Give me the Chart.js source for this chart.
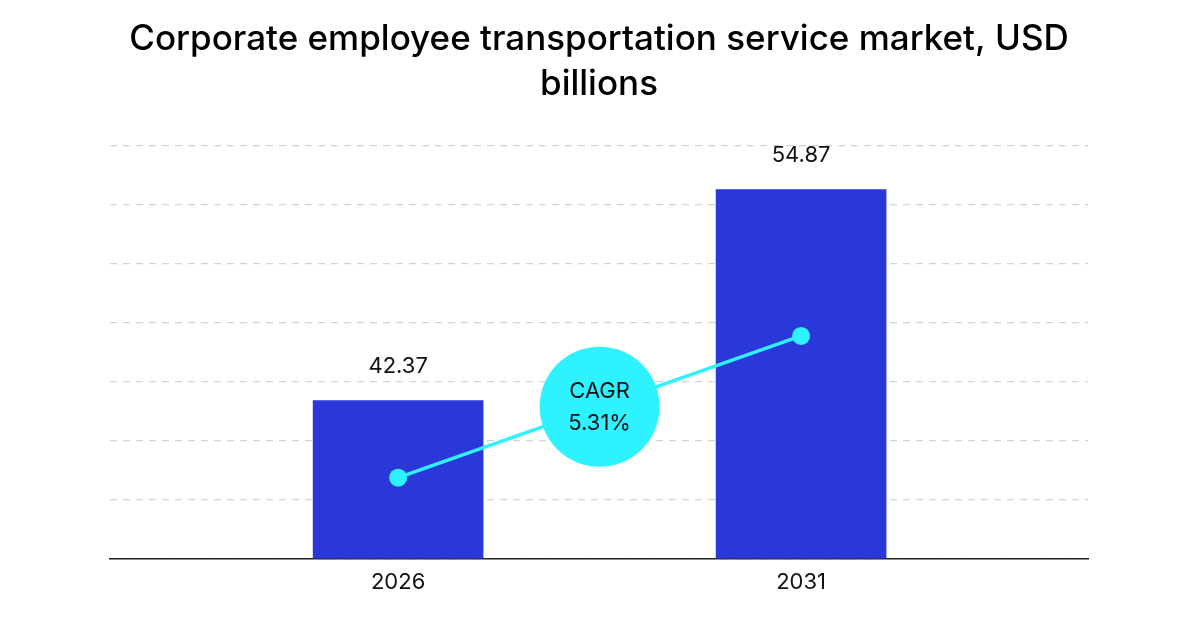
<!DOCTYPE html>
<html>
<head>
<meta charset="utf-8">
<script src="https://cdn.jsdelivr.net/npm/chart.js@4"></script>
<style>
  html, body { margin: 0; padding: 0; background: #fff; }
  #wrap { width: 1200px; height: 630px; }
</style>
</head>
<body>
<div id="wrap"><canvas id="marketChart" width="1200" height="630"></canvas></div>
<script>
/* DATA */
let categories = ["2026", "2031"];
let marketValues = [42.37, 54.87];
let trendValues = [37.8, 46.2];   // decorative CAGR line
let cagrText = ["CAGR", "5.31%"];
let titleLines = ["Corporate employee transportation service market, USD", "billions"];

let barColor = "#2a38d9";
let cyan = "#2ef2ff";
let fontName = "Inter, 'DejaVu Sans', sans-serif";

/* LABELS + CAGR BUBBLE */
let overlay = {
    id: "overlay",
    afterDatasetsDraw(chart) {
        let ctx = chart.ctx;
        ctx.save();
        ctx.fillStyle = "#111";
        ctx.font = "400 22px " + fontName;
        ctx.textAlign = "center";
        ctx.textBaseline = "middle";
        chart.getDatasetMeta(1).data.forEach((bar, i) => {
            ctx.fillText(marketValues[i].toFixed(2), bar.x, bar.y - 34);
        });

        let pts = chart.getDatasetMeta(0).data;
        let cx = (pts[0].x + pts[1].x) / 2;
        let cy = (pts[0].y + pts[1].y) / 2;
        ctx.beginPath();
        ctx.arc(cx, cy, 60, 0, Math.PI * 2);
        ctx.fillStyle = cyan;
        ctx.fill();
        ctx.fillStyle = "#111";
        ctx.fillText(cagrText[0], cx, cy - 15);
        ctx.fillText(cagrText[1], cx, cy + 17);
        ctx.restore();
    }
};

new Chart(document.getElementById("marketChart"), {
    type: "bar",
    data: {
        datasets: [
            {
                type: "line",
                data: trendValues.map((v, i) => ({ x: i, y: v })),
                borderColor: cyan,
                borderWidth: 3.5,
                pointRadius: 9,
                pointBackgroundColor: cyan,
                pointBorderWidth: 0,
                order: 0
            },
            {
                type: "bar",
                data: marketValues.map((v, i) => ({ x: i, y: v })),
                backgroundColor: barColor,
                barThickness: 170,
                order: 1
            }
        ]
    },
    options: {
        responsive: false,
        animation: false,
        layout: { padding: { left: 110, right: 112, top: 0, bottom: 31 } },
        plugins: {
            legend: { display: false },
            tooltip: { enabled: false },
            title: {
                display: true,
                text: titleLines,
                color: "#000",
                font: { family: fontName, size: 35, weight: "500", lineHeight: 1.29 },
                padding: { top: 17, bottom: 38 }
            }
        },
        scales: {
            x: {
                type: "linear",
                offset: false,
                min: -0.715,
                max: 1.712,
                grid: { display: false },
                border: { display: true, color: "#222", width: 1.5 },
                afterBuildTicks(scale) {
                    scale.ticks = categories.map((c, i) => ({ value: i }));
                },
                ticks: {
                    padding: 3,
                    color: "#111",
                    font: { family: fontName, size: 22 },
                    callback: v => categories[v]
                }
            },
            y: {
                min: 33,
                max: 57.5,
                ticks: { display: false, stepSize: 3.5 },
                grid: { color: "#d4d4d4", lineWidth: 1.2, drawTicks: false },
                border: { display: false, dash: [7, 6] }
            }
        }
    },
    plugins: [overlay]
});
</script>
</body>
</html>
